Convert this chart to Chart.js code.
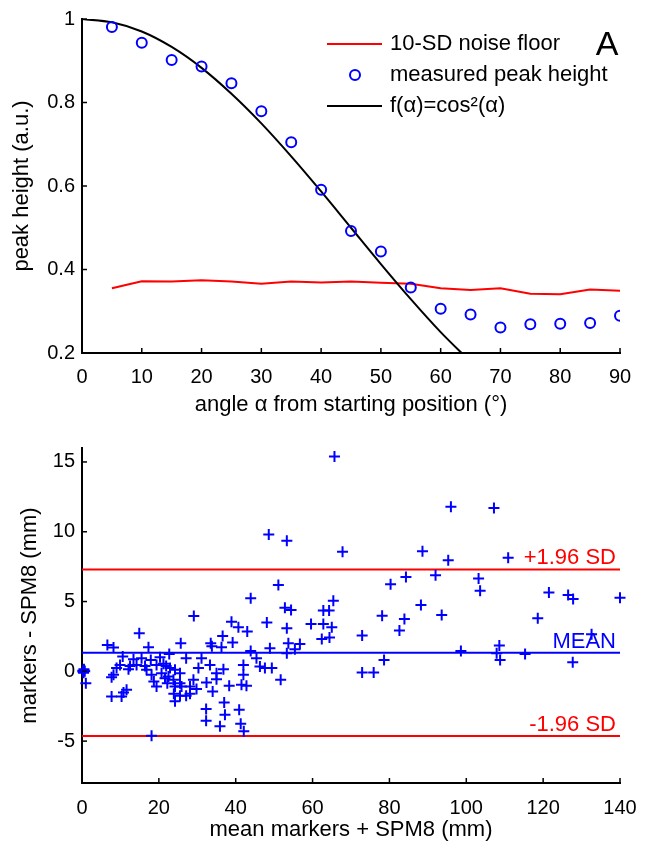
<!DOCTYPE html>
<html>
<head>
<meta charset="utf-8">
<script src="https://cdn.jsdelivr.net/npm/chart.js@4.4.0/dist/chart.umd.min.js"></script>
<style>
  body { margin: 0; background: #fff; }
  #peak-chart { position: absolute; left: 0; top: 0; }
  #diff-chart { position: absolute; left: 0; top: 418px; }
</style>
</head>
<body>
<canvas id="peak-chart" width="651" height="418"></canvas>
<canvas id="diff-chart" width="651" height="431"></canvas>
<script>
// Panel A data
var angles = [5, 10, 15, 20, 25, 30, 35, 40, 45, 50, 55, 60, 65, 70, 75, 80, 85, 90];
var measuredPeak = [0.981, 0.943, 0.902, 0.886, 0.846, 0.779, 0.705, 0.591, 0.492, 0.443, 0.357, 0.306, 0.292, 0.261, 0.269, 0.270, 0.272, 0.289];
var noiseFloor = [0.355, 0.372, 0.371, 0.374, 0.371, 0.366, 0.371, 0.369, 0.371, 0.368, 0.366, 0.355, 0.351, 0.355, 0.342, 0.341, 0.352, 0.349];
var fitAngles = [0, 5, 10, 15, 20, 25, 30, 35, 40, 45, 50, 55, 60, 65];
var fitValues = [1.0, 0.992, 0.970, 0.933, 0.883, 0.821, 0.750, 0.671, 0.587, 0.500, 0.413, 0.329, 0.250, 0.179];
var ticksA_x = [0, 10, 20, 30, 40, 50, 60, 70, 80, 90];
var ticksA_y = [0.2, 0.4, 0.6, 0.8, 1];

// Panel B data: [mean markers + SPM8, markers - SPM8]
var diffPoints = [
  [48.6, 9.8], [53.3, 9.35], [51.1, 6.18], [43.9, 5.23], [52.8, 4.56], [54.4, 4.39], [29.1, 3.96],
  [38.9, 3.56], [40.7, 3.15], [43.0, 2.85], [48.1, 3.49], [53.3, 3.08], [14.9, 2.73], [36.6, 2.54],
  [39.2, 2.06], [33.5, 2.01], [25.7, 2.01], [6.6, 1.89], [8.2, 1.70], [17.3, 1.73], [33.8, 1.80],
  [36.3, 1.73], [53.7, 2.01], [56.7, 1.96], [48.9, 1.65], [43.9, 1.46], [55.4, 1.58], [53.3, 1.30],
  [22.7, 1.25], [10.6, 1.06], [27.1, 0.94], [31.1, 0.94], [45.4, 0.94], [13.4, 0.87], [15.5, 0.94],
  [17.9, 0.82], [20.3, 1.01], [21.2, 0.54], [9.9, 0.46], [12.5, 0.39], [14.2, 0.46], [16.4, 0.39],
  [19.4, 0.46], [21.9, 0.39], [33.3, 0.46], [42.0, 0.46], [46.3, 0.35], [49.4, 0.23], [30.3, 0.23],
  [9.0, 0.23], [12.1, 0.15], [16.8, 0.11], [22.9, 0.23], [24.2, 0.11], [36.8, 0.15], [47.6, 0.23],
  [0.2, 0.05], [0.4, -0.1], [0.5, 0.15], [0.7, 0.0], [0.3, -0.05], [0.6, 0.05],
  [8.2, -0.25], [18.1, -0.25], [20.7, -0.13], [22.5, -0.37], [25.5, -0.13], [35.0, -0.13], [42.0, -0.25],
  [1.0, -0.85], [7.7, -0.42], [18.7, -0.73], [21.6, -0.49], [23.8, -0.61], [25.5, -0.85], [29.0, -0.61],
  [32.4, -0.80], [35.0, -0.56], [38.3, -1.04], [41.5, -0.96], [42.8, -1.04], [51.7, -0.61], [19.4, -1.08],
  [22.2, -0.85], [24.2, -1.08], [25.9, -1.08], [28.1, -1.08], [29.8, -1.27], [11.6, -1.32], [10.8, -1.51],
  [7.7, -1.80], [10.3, -1.80], [23.9, -1.61], [25.5, -1.75], [27.1, -1.75], [28.1, -1.61], [24.2, -2.15],
  [34.0, -1.44], [37.0, -2.23], [32.3, -2.70], [37.2, -3.11], [40.9, -2.75], [32.3, -3.54], [35.9, -3.94],
  [41.3, -3.75], [42.1, -4.30], [18.1, -4.61],
  [65.7, 15.4], [96.0, 11.8], [107.2, 11.7], [67.8, 8.56], [88.6, 8.61], [95.3, 7.96], [110.9, 8.13],
  [80.3, 6.23], [84.3, 6.75], [92.0, 6.89], [103.2, 6.65], [103.6, 5.77], [121.5, 5.65], [126.5, 5.46],
  [127.8, 5.18], [140.0, 5.27], [65.4, 5.06], [62.8, 4.35], [64.3, 4.35], [59.6, 3.39], [62.8, 3.39],
  [65.0, 3.15], [78.1, 3.99], [88.2, 4.75], [83.9, 3.75], [93.6, 4.04], [82.6, 2.92], [118.6, 3.80],
  [62.4, 2.32], [64.4, 2.42], [72.9, 2.56], [132.6, 2.65], [98.6, 1.46], [108.6, 1.85], [107.9, 1.30],
  [108.8, 0.82], [115.3, 1.25], [78.6, 0.82], [72.9, -0.08], [75.9, -0.08], [127.7, 0.65]
];
var limitNames = ['+1.96 SD', 'MEAN', '-1.96 SD'];
var limitValues = [7.3, 1.33, -4.63];
var limitColors = ['#ff0000', '#0000ff', '#ff0000'];
var ticksB_x = [0, 20, 40, 60, 80, 100, 120, 140];
var ticksB_y = [-5, 0, 5, 10, 15];

var FONT = '"Liberation Sans", Arial, Helvetica, sans-serif';

function xy(xs, ys) {
  return xs.map(function(x, i) { return { x: x, y: ys[i] }; });
}

// MATLAB style ticks pointing into the plot
var inwardTicks = {
  id: 'inwardTicks',
  afterDraw: function(chart) {
    var ctx = chart.ctx, area = chart.chartArea;
    var sx = chart.scales.x, sy = chart.scales.y;
    ctx.save();
    ctx.strokeStyle = '#000';
    ctx.lineWidth = 1.5;
    sx.ticks.forEach(function(t) {
      var px = sx.getPixelForValue(t.value);
      ctx.beginPath(); ctx.moveTo(px, area.bottom); ctx.lineTo(px, area.bottom - 5); ctx.stroke();
    });
    sy.ticks.forEach(function(t) {
      var py = sy.getPixelForValue(t.value);
      ctx.beginPath(); ctx.moveTo(area.left, py); ctx.lineTo(area.left + 5, py); ctx.stroke();
    });
    ctx.restore();
  }
};

function panelLetter(letter, x, y) {
  return {
    id: 'letter' + letter,
    afterDraw: function(chart) {
      var ctx = chart.ctx;
      ctx.save();
      ctx.fillStyle = '#000';
      ctx.font = '34px ' + FONT;
      ctx.textAlign = 'center';
      ctx.textBaseline = 'middle';
      ctx.fillText(letter, x, y);
      ctx.restore();
    }
  };
}

var legendA = {
  id: 'legendA',
  afterDraw: function(chart) {
    var ctx = chart.ctx;
    var rows = [
      { ds: chart.data.datasets[1], kind: 'line', y: 44 },
      { ds: chart.data.datasets[0], kind: 'circle', y: 75 },
      { ds: chart.data.datasets[2], kind: 'line', y: 106 }
    ];
    ctx.save();
    ctx.font = '22px ' + FONT;
    ctx.textBaseline = 'middle';
    ctx.textAlign = 'left';
    rows.forEach(function(r) {
      ctx.strokeStyle = r.ds.borderColor;
      ctx.lineWidth = 2;
      ctx.beginPath();
      if (r.kind === 'line') {
        ctx.moveTo(327, r.y); ctx.lineTo(382, r.y);
      } else {
        ctx.arc(355, r.y, 5, 0, Math.PI * 2);
      }
      ctx.stroke();
      ctx.fillStyle = '#000';
      ctx.fillText(r.ds.label, 390, r.y);
    });
    ctx.restore();
  }
};

var limitLabels = {
  id: 'limitLabels',
  afterDraw: function(chart) {
    var ctx = chart.ctx, sy = chart.scales.y, area = chart.chartArea;
    ctx.save();
    ctx.font = '22px ' + FONT;
    ctx.textAlign = 'right';
    ctx.textBaseline = 'alphabetic';
    limitNames.forEach(function(name, i) {
      ctx.fillStyle = limitColors[i];
      ctx.fillText(name, area.right - 4, sy.getPixelForValue(limitValues[i]) - 5);
    });
    ctx.restore();
  }
};

function axisOpts(min, max, tickList, title, side, size, tickPad) {
  return {
    type: 'linear',
    min: min,
    max: max,
    grid: { display: false, drawTicks: false },
    border: { display: true, color: '#000', width: 2 },
    afterBuildTicks: function(scale) {
      scale.ticks = tickList.map(function(v) { return { value: v }; });
    },
    afterFit: function(scale) {
      if (side === 'x') scale.height = size; else scale.width = size;
    },
    ticks: {
      color: '#000',
      padding: tickPad,
      maxRotation: 0,
      autoSkip: false,
      font: { family: FONT, size: 20 },
      callback: function(v) { return String(v); }
    },
    title: {
      display: true,
      text: title,
      color: '#000',
      padding: 0,
      font: { family: FONT, size: 22 }
    }
  };
}

new Chart(document.getElementById('peak-chart'), {
  type: 'scatter',
  data: {
    datasets: [{
      label: 'measured peak height',
      data: xy(angles, measuredPeak),
      borderColor: '#0000ff',
      backgroundColor: 'rgba(0,0,0,0)',
      pointStyle: 'circle',
      pointRadius: 5,
      borderWidth: 2,
      order: 0
    }, {
      label: '10-SD noise floor',
      data: xy(angles, noiseFloor),
      showLine: true,
      borderColor: '#ff0000',
      borderWidth: 2,
      pointRadius: 0,
      order: 2
    }, {
      label: 'f(α)=cos²(α)',
      data: xy(fitAngles, fitValues),
      showLine: true,
      borderColor: '#000000',
      borderWidth: 2,
      pointRadius: 0,
      cubicInterpolationMode: 'monotone',
      order: 1
    }]
  },
  options: {
    responsive: false,
    animation: false,
    layout: { padding: { left: 9, right: 31, top: 14, bottom: 0 } },
    plugins: { legend: { display: false }, tooltip: { enabled: false } },
    scales: {
      x: axisOpts(0, 90, ticksA_x, 'angle α from starting position (°)', 'x', 65, 12),
      y: axisOpts(0.2, 1, ticksA_y, 'peak height (a.u.)', 'y', 73, 7)
    }
  },
  plugins: [inwardTicks, legendA, panelLetter('A', 607, 46)]
});

var limitSets = limitValues.map(function(v, i) {
  return {
    label: limitNames[i],
    data: xy([0, 140], [v, v]),
    showLine: true,
    borderColor: limitColors[i],
    borderWidth: 2,
    pointRadius: 0,
    order: 1
  };
});

new Chart(document.getElementById('diff-chart'), {
  type: 'scatter',
  data: {
    datasets: [{
      label: 'difference',
      data: diffPoints.map(function(p) { return { x: p[0], y: p[1] }; }),
      pointStyle: 'cross',
      pointRadius: 5.5,
      borderWidth: 2,
      borderColor: '#0000ff',
      clip: false,
      order: 0
    }].concat(limitSets)
  },
  options: {
    responsive: false,
    animation: false,
    layout: { padding: { left: 17, right: 31, top: 30, bottom: 6 } },
    plugins: { legend: { display: false }, tooltip: { enabled: false } },
    scales: {
      x: axisOpts(0, 140, ticksB_x, 'mean markers + SPM8 (mm)', 'x', 60, 13),
      y: axisOpts(-8, 16, ticksB_y, 'markers - SPM8 (mm)', 'y', 65, 7)
    }
  },
  plugins: [inwardTicks, limitLabels, panelLetter('B', 605, 461)]
});
</script>
</body>
</html>
